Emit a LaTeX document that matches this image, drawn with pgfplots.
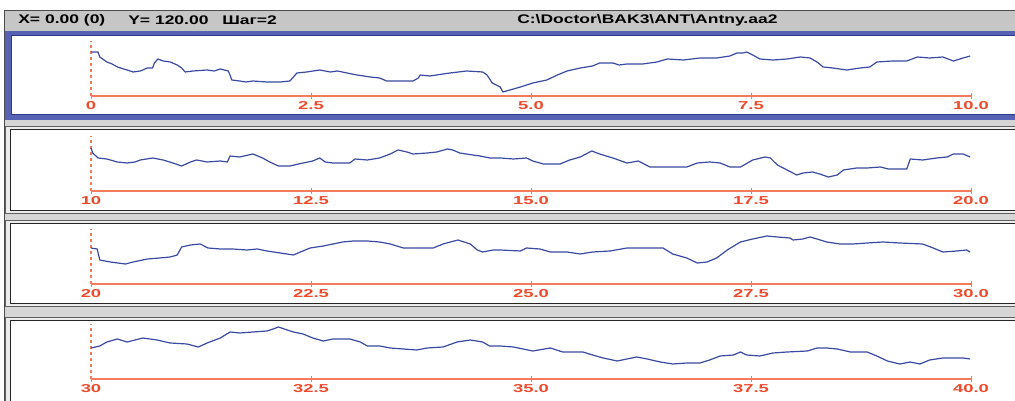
\documentclass[border=0pt]{standalone}
\usepackage{pgfplots}
\pgfplotsset{compat=1.18}
\usepackage{fontspec}
\setmainfont{Liberation Sans}
\definecolor{curveblue}{HTML}{3A4AA2}
\definecolor{axred}{HTML}{F47A5E}
\definecolor{lblred}{HTML}{EE4A2C}
\definecolor{frameblue}{HTML}{5662B4}
\definecolor{framenavy}{HTML}{2E3A8A}
\definecolor{wingray}{HTML}{D6D6D6}
\definecolor{titlegray}{HTML}{C6C6C6}
\pgfplotsset{
  panel/.style={
    anchor=south west, scale only axis, width=880pt, height=55pt,
    ymin=0, ymax=55,
    axis x line=bottom, axis y line=none,
    x axis line style={-, draw=axred, line width=1.1pt},
    ytick=\empty,
    major tick length=6pt, tick align=center,
    tick style={draw=axred, line width=1pt},
    xticklabel style={font=\bfseries\fontsize{11.5}{12}\selectfont, text=lblred, xscale=1.6, inner sep=2.5pt},
    clip=false,
  },
  curve/.style={curveblue, line width=1.2pt, line join=round},
  zeroline/.style={axred, line width=1.1pt, dash pattern=on 3pt off 3pt},
}
\begin{document}
\begin{tikzpicture}[x=1pt,y=1pt]
\path[use as bounding box] (0,0) rectangle (1015,401);
\clip (0,0) rectangle (1015,401);
\fill[white] (0,0) rectangle (1015,401);
% window background
\fill[wingray] (4,0) rectangle (1020,391);
\fill[titlegray] (5,370) rectangle (1020,390);
\draw[black!70, line width=1.5pt] (4.5,-5) -- (4.5,390.5) -- (1020,390.5);
\node[anchor=west, font=\bfseries\fontsize{12.5}{13}\selectfont, xscale=1.4, inner sep=0pt] at (18,380.5) {X= 0.00 (0)};
\node[anchor=west, font=\bfseries\fontsize{12.5}{13}\selectfont, xscale=1.4, inner sep=0pt] at (128,380.5) {Y= 120.00};
\node[anchor=west, font=\bfseries\fontsize{12.5}{13}\selectfont, xscale=1.4, inner sep=0pt] at (222,380.5) {Шаг=2};
\node[anchor=west, font=\bfseries\fontsize{12.5}{13}\selectfont, xscale=1.4, inner sep=0pt] at (517,380.5) {C:\textbackslash Doctor\textbackslash BAK3\textbackslash ANT\textbackslash Antny.aa2};
% panel 1 (selected, blue frame)
\fill[frameblue] (5,281) rectangle (1020,370);
\fill[white] (11,286) rectangle (1020,365);
\draw[framenavy, line width=1pt] (1020,286) -- (11,286) -- (11,365) -- (1020,365);
% panels 2-4
\foreach \yb/\yt in {187/275, 94/181, -9/84}{
  \fill[gray!15] (5,\yb) rectangle (1020,\yt);
  \draw[gray!75!black, line width=1.4pt] (5.7,\yb+0.7) rectangle (1025,\yt-0.7);
  \fill[white] (11,\yb+4) rectangle (1020,\yt-4);
  \draw[black!85, line width=1.2pt] (10.6,\yb+3.6) rectangle (1025,\yt-3.6);
}
% ---------- panel 1 ----------
\begin{axis}[panel, at={(91pt,305pt)}, xmin=0, xmax=10,
  xtick={0,2.5,5,7.5,10}, xticklabels={0,2.5,5.0,7.5,10.0}]
\addplot[zeroline] coordinates {(0,0) (0,55)};
\addplot[curve] table {
0.00 44
0.08 44
0.10 39
0.18 34
0.24 32
0.30 29
0.41 26
0.48 24
0.56 25
0.64 28
0.70 28
0.72 33
0.76 37
0.82 35
0.90 34
0.98 31
1.03 28
1.07 24
1.16 25
1.32 26
1.40 25
1.47 27
1.56 25
1.58 21
1.60 16
1.69 15
1.76 14
1.84 15
2.00 14
2.15 14
2.26 15
2.30 19
2.34 23
2.45 24
2.60 26
2.72 24
2.80 25
2.91 23
3.02 21
3.10 20
3.17 19
3.28 18
3.36 15
3.51 15
3.66 15
3.72 18
3.74 21
3.85 20
4.00 22
4.08 23
4.27 25
4.45 24
4.50 21
4.56 13
4.65 9
4.68 4
4.76 6
4.88 9
5.02 13
5.18 16
5.30 21
5.41 25
5.56 28
5.70 30
5.78 33
5.93 33
6.00 31
6.09 32
6.27 32
6.43 34
6.55 37
6.73 36
6.92 38
7.11 38
7.26 40
7.34 43
7.41 43
7.45 44
7.52 41
7.60 37
7.75 36
7.91 37
8.06 39
8.17 38
8.25 34
8.32 29
8.43 28
8.59 26
8.74 28
8.85 29
8.93 34
9.11 35
9.27 35
9.39 39
9.53 38
9.68 39
9.80 35
9.91 38
9.99 40
};
\end{axis}
% ---------- panel 2 ----------
\begin{axis}[panel, at={(91pt,210pt)}, xmin=10, xmax=20,
  xtick={10,12.5,15,17.5,20}, xticklabels={10,12.5,15.0,17.5,20.0}]
\addplot[zeroline] coordinates {(10,0) (10,55)};
\addplot[curve] table {
10.00 43
10.02 38
10.08 33
10.18 32
10.30 29
10.41 28
10.50 29
10.56 31
10.70 33
10.82 31
10.93 28
11.03 25
11.13 29
11.20 31
11.32 29
11.47 30
11.55 29
11.58 35
11.69 34
11.84 37
11.95 33
12.03 29
12.13 25
12.26 25
12.41 28
12.52 30
12.60 33
12.66 29
12.75 28
12.94 28
13.00 32
13.14 31
13.28 33
13.40 37
13.49 41
13.59 39
13.66 37
13.82 38
13.93 39
14.05 42
14.11 41
14.19 38
14.34 36
14.42 35
14.53 33
14.65 33
14.80 32
14.95 33
15.02 30
15.14 27
15.33 27
15.44 31
15.56 34
15.69 40
15.78 37
15.93 33
16.09 28
16.16 29
16.22 30
16.35 24
16.55 24
16.77 24
16.89 28
17.03 29
17.15 28
17.26 24
17.38 24
17.52 31
17.66 34
17.72 33
17.80 26
17.91 21
18.02 16
18.09 18
18.20 19
18.28 17
18.38 14
18.48 16
18.55 21
18.70 23
18.82 23
18.97 24
19.06 22
19.27 22
19.31 32
19.45 31
19.61 33
19.73 34
19.80 37
19.91 37
19.99 34
};
\end{axis}
% ---------- panel 3 ----------
\begin{axis}[panel, at={(91pt,117pt)}, xmin=20, xmax=30,
  xtick={20,22.5,25,27.5,30}, xticklabels={20,22.5,25.0,27.5,30.0}]
\addplot[zeroline] coordinates {(20,0) (20,55)};
\addplot[curve] table {
20.00 36
20.07 35
20.10 24
20.22 22
20.39 20
20.48 22
20.64 25
20.78 26
20.90 27
20.98 29
21.03 37
21.13 39
21.24 40
21.33 36
21.47 35
21.61 35
21.77 34
21.89 35
22.00 33
22.15 31
22.30 29
22.38 32
22.49 36
22.64 38
22.75 40
22.86 42
22.98 43
23.14 43
23.28 42
23.40 40
23.55 36
23.74 36
23.89 36
24.00 40
24.17 44
24.31 40
24.39 34
24.45 32
24.57 34
24.65 34
24.88 33
24.95 36
25.10 35
25.22 32
25.41 32
25.56 30
25.70 32
25.90 33
26.09 36
26.24 36
26.50 36
26.61 30
26.77 26
26.89 21
27.00 22
27.11 26
27.23 34
27.38 42
27.52 45
27.68 48
27.80 47
27.94 46
27.98 44
28.09 45
28.17 47
28.25 45
28.36 42
28.51 40
28.66 40
28.82 41
29.00 42
29.19 41
29.45 40
29.57 36
29.68 32
29.84 33
29.95 34
29.99 32
};
\end{axis}
% ---------- panel 4 ----------
\begin{axis}[panel, at={(91pt,22pt)}, xmin=30, xmax=40,
  xtick={30,32.5,35,37.5,40}, xticklabels={30,32.5,35.0,37.5,40.0}]
\addplot[zeroline] coordinates {(30,0) (30,55)};
\addplot[curve] table {
30.00 31
30.10 33
30.18 37
30.30 40
30.41 37
30.59 41
30.75 39
30.90 36
31.09 35
31.22 32
31.32 36
31.47 41
31.58 47
31.69 46
31.84 47
32.00 48
32.07 50
32.13 52
32.23 49
32.30 47
32.41 45
32.52 41
32.64 38
32.75 40
32.94 40
33.06 37
33.14 33
33.28 33
33.40 31
33.55 30
33.70 29
33.82 31
34.00 32
34.16 37
34.31 39
34.45 37
34.53 33
34.65 33
34.80 32
35.02 28
35.22 31
35.36 27
35.59 27
35.70 24
35.82 21
35.98 18
36.09 20
36.20 22
36.32 20
36.47 17
36.61 15
36.77 16
36.92 16
37.03 19
37.15 23
37.30 24
37.38 27
37.45 24
37.60 23
37.75 26
37.91 27
38.14 28
38.25 31
38.36 31
38.48 30
38.63 27
38.82 27
38.93 23
39.05 18
39.19 15
39.31 17
39.42 15
39.53 19
39.68 21
39.84 21
39.91 21
39.99 20
};
\end{axis}
\end{tikzpicture}
\end{document}
